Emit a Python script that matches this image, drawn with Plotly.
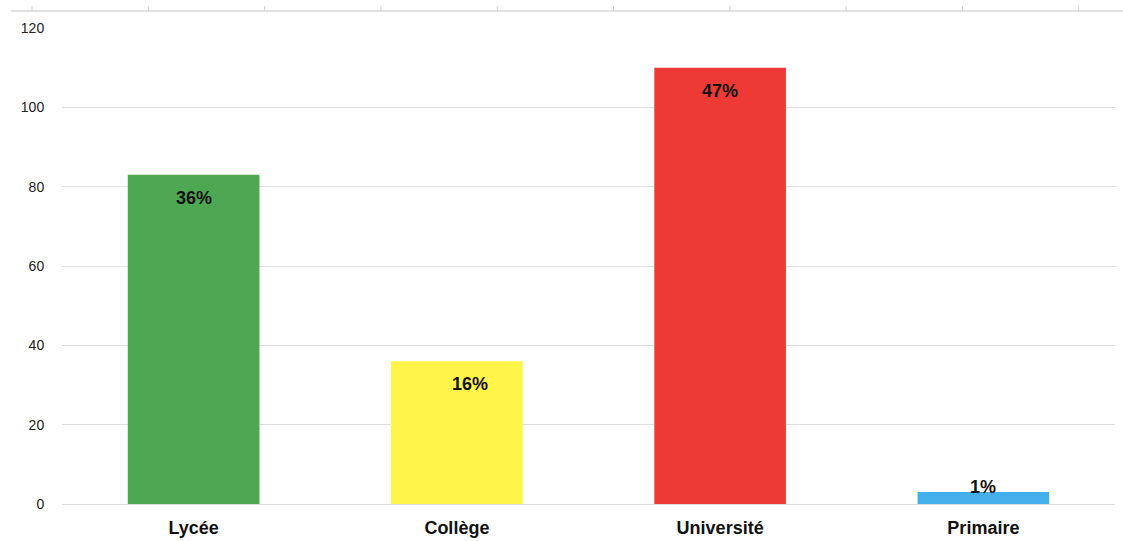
import plotly.graph_objects as go

categories = ["Lycée", "Collège", "Université", "Primaire"]
values = [83, 36, 110, 3]
colors = ["#4EA853", "#FFF54A", "#EE3A35", "#43AFEB"]
y_ticks = [0, 20, 40, 60, 80, 100, 120]

total = sum(values)
percent_labels = [f"{round(v / total * 100)}%" for v in values]

W, H = 1123, 541
ML, MR, MT, MB = 62, 8, 28, 37
plot_w = W - ML - MR
plot_h = H - MT - MB

fig = go.Figure()
fig.add_trace(go.Bar(
    x=categories, y=values, marker=dict(color=colors, line=dict(width=0)),
    width=0.5, hoverinfo="skip", showlegend=False,
))

annotations = []
for i, (c, v, lab) in enumerate(zip(categories, values, percent_labels)):
    short = v < 10
    annotations.append(dict(
        x=c, y=v, xref="x", yref="y", text=f"<b>{lab}</b>", showarrow=False,
        yshift=5 if short else -23, xshift=13 if c == "Collège" else 0,
        font=dict(family="Liberation Sans, Arial", size=18, color="#111111"),
    ))

# decorative ruler line at the very top
shapes = []
def px_to_paper_x(px):
    return (px - ML) / plot_w
def px_to_paper_y(py):
    return (H - MB - py) / plot_h

shapes.append(dict(type="line", xref="paper", yref="paper",
                   x0=px_to_paper_x(11), x1=px_to_paper_x(1123),
                   y0=px_to_paper_y(11), y1=px_to_paper_y(11),
                   line=dict(color="#d9d9d9", width=1.5)))
for k in range(10):
    px = 32 + k * 116.3
    shapes.append(dict(type="line", xref="paper", yref="paper",
                       x0=px_to_paper_x(px), x1=px_to_paper_x(px),
                       y0=px_to_paper_y(6), y1=px_to_paper_y(11),
                       line=dict(color="#d0d0d0", width=1)))

fig.update_layout(
    width=W, height=H,
    margin=dict(l=ML, r=MR, t=MT, b=MB, pad=0),
    paper_bgcolor="white", plot_bgcolor="white",
    bargap=0.5,
    annotations=annotations,
    shapes=shapes,
    xaxis=dict(
        automargin=False,
        showgrid=False, zeroline=False, showline=False,
        ticks="outside", ticklen=7, tickcolor="rgba(0,0,0,0)",
        tickfont=dict(family="Liberation Sans, Arial", size=18, color="#111111", weight="bold"),
    ),
    yaxis=dict(
        automargin=False,
        range=[0, 120], tickvals=y_ticks, showgrid=True, gridcolor="#dddddd", gridwidth=1,
        zeroline=True, zerolinecolor="#dddddd", zerolinewidth=1, showline=False,
        ticks="outside", ticklen=14, tickcolor="rgba(0,0,0,0)",
        tickfont=dict(family="Liberation Sans, Arial", size=14, color="#222222"),
    ),
)

fig.write_html("out.html")
